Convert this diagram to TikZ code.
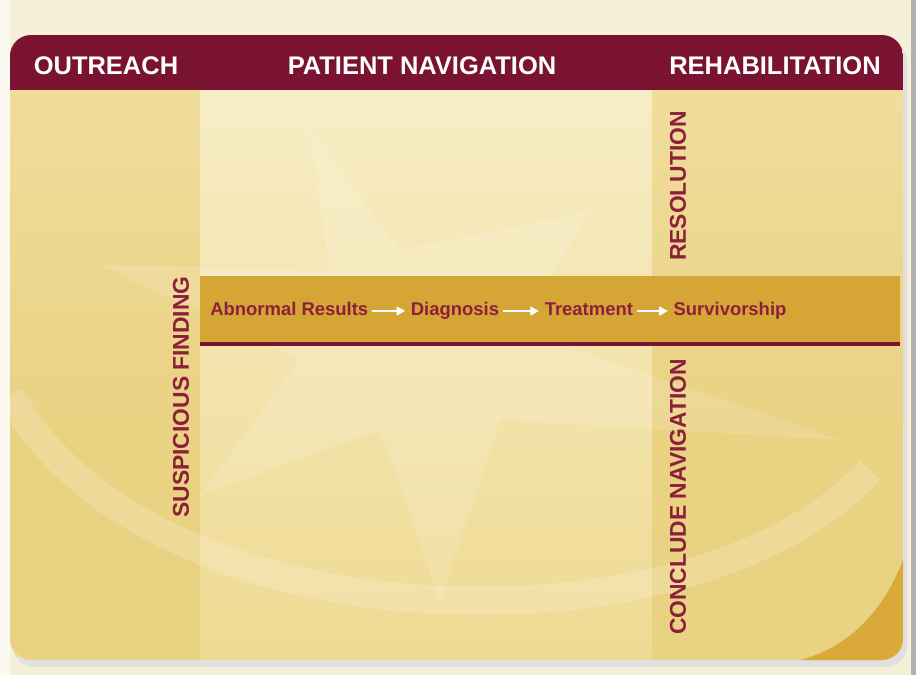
\documentclass[tikz,border=0pt]{standalone}
\usepackage{fontspec}
\setmainfont{Liberation Sans}
\usetikzlibrary{calc, positioning}
\usetikzlibrary{arrows.meta}

\definecolor{wine}{HTML}{7A1232}
\definecolor{wordred}{HTML}{8E1F3C}
\definecolor{cream}{HTML}{F7F0D9}
\definecolor{paneyellow}{HTML}{EAD283}
\definecolor{panelight}{HTML}{F0DD9C}
\definecolor{paletop}{HTML}{F7EDC6}
\definecolor{palebot}{HTML}{EFDA92}
\definecolor{bandgold}{HTML}{D5A536}
\definecolor{cornergold}{HTML}{D9AA3A}

\begin{document}
\begin{tikzpicture}[x=0.02cm, y=-0.02cm,
  headtext/.style={text=white, font=\bfseries\fontsize{14.5}{16}\selectfont, inner sep=0pt},
  steptext/.style={text=wordred, font=\bfseries\fontsize{10.5}{12}\selectfont, inner sep=0pt},
  sidetext/.style={text=wordred, font=\bfseries\fontsize{13}{15}\selectfont, rotate=90, inner sep=0pt},
  flow/.style={white, line width=1.3pt, -{Triangle[length=5pt, width=5pt]}, shorten <=2pt, shorten >=3pt}]
\useasboundingbox (0,0) rectangle (916,675);
\fill[cream] (0,0) rectangle (916,675);
\fill[white!60!cream] (0,0) rectangle (10,675);
\fill[black!30] (911,0) rectangle (916,675);

% panel with shadow
\fill[black!12, rounded corners=12pt] (13,40) rectangle (907,667);
\begin{scope}
\clip[rounded corners=12pt] (10,35) rectangle (903,660);
\fill[paneyellow] (10,35) rectangle (903,660);
\shade[top color=panelight, bottom color=paneyellow] (10,90) rectangle (200,420);
\shade[top color=paletop, bottom color=palebot] (200,90) rectangle (652,660);
\shade[top color=panelight, bottom color=paneyellow] (652,90) rectangle (903,420);
% star
\fill[white, opacity=0.14] (310,130) -- (400,250) -- (590,212) -- (520,330)
  -- (840,440) -- (500,420) -- (440,600) -- (380,430) -- (200,495)
  -- (300,360) -- (100,265) -- (330,270) -- cycle;
% swoosh
\draw[white, opacity=0.18, line width=16pt] (10,395) .. controls (150,650) and (700,660) .. (870,470);
\fill[cornergold] (903,560) .. controls (880,620) and (840,650) .. (800,660) -- (903,660) -- cycle;
\fill[wine] (10,35) rectangle (903,90);
\end{scope}

% band
\fill[bandgold] (200,276) rectangle (900,343);
\draw[wine, line width=2.3pt] (200,344) -- (900,344);

\node[headtext] (outreach) at (106,66) {OUTREACH};
\node[headtext] (patnav) at (422,66) {PATIENT NAVIGATION};
\node[headtext] (rehab) at (775,66) {REHABILITATION};

\node[steptext, anchor=base west] (abnormal) at (210,316) {Abnormal Results};
\node[steptext, base right=0.84cm of abnormal] (diagnosis) {Diagnosis};
\node[steptext, base right=0.9cm of diagnosis] (treatment) {Treatment};
\node[steptext, base right=0.8cm of treatment] (survivor) {Survivorship};
\draw[flow] ($(abnormal.base east)+(0,-5)$) -- ($(diagnosis.base west)+(0,-5)$);
\draw[flow] ($(diagnosis.base east)+(0,-5)$) -- ($(treatment.base west)+(0,-5)$);
\draw[flow] ($(treatment.base east)+(0,-5)$) -- ($(survivor.base west)+(0,-5)$);

\node[sidetext] (suspicious) at (181,397) {SUSPICIOUS FINDING};
\node[sidetext] (resolution) at (678,186) {RESOLUTION};
\node[sidetext] (conclude) at (678,497) {CONCLUDE NAVIGATION};
\end{tikzpicture}
\end{document}
